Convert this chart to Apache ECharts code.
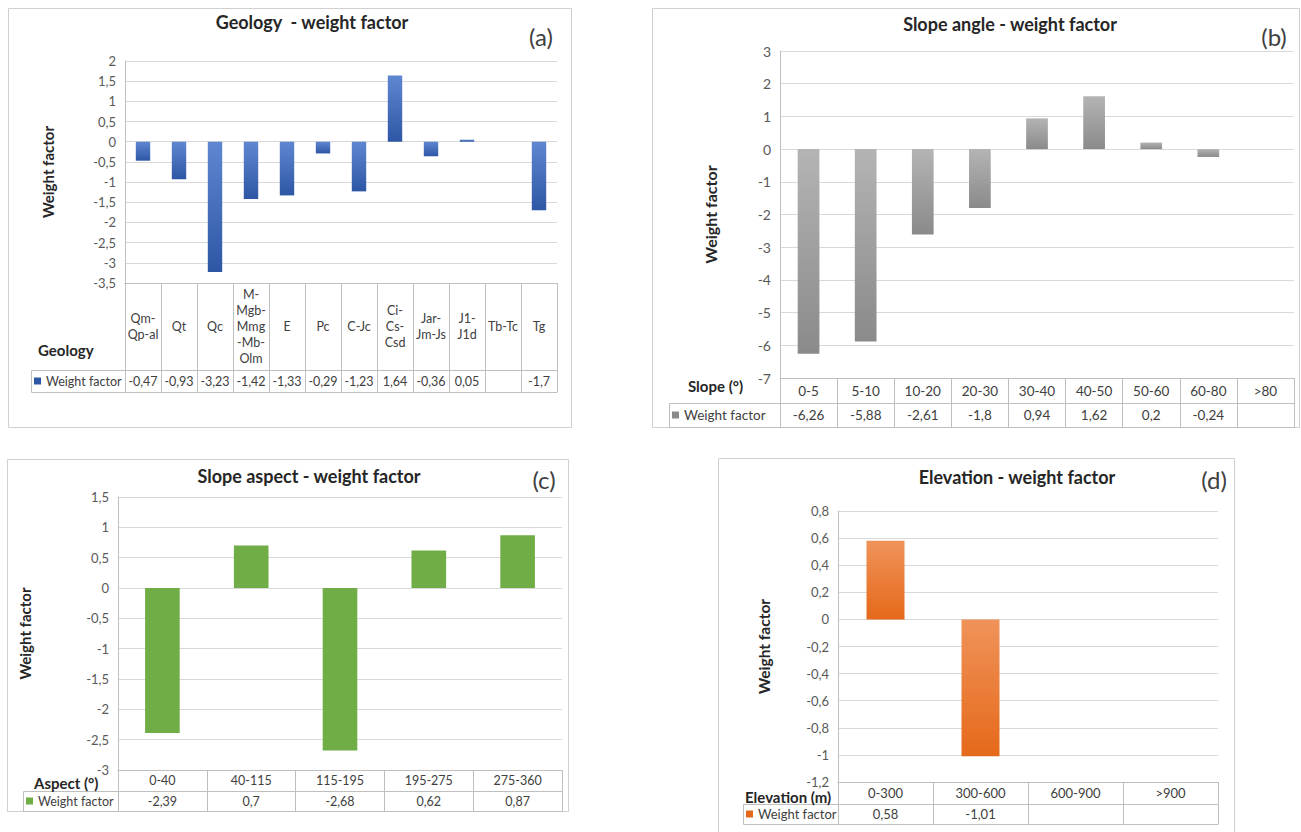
<!DOCTYPE html>
<html><head><meta charset="utf-8">
<script src="https://cdn.jsdelivr.net/npm/echarts@6/dist/echarts.min.js"></script>
<style>html,body{margin:0;padding:0;background:#fff}#c{width:1301px;height:832px}</style>
</head><body><div id="c"></div>
<script>
// ---------- data ----------
const geoCats = ['Qm-\nQp-al', 'Qt', 'Qc', 'M-\nMgb-\nMmg\n-Mb-\nOlm', 'E', 'Pc', 'C-Jc', 'Ci-\nCs-\nCsd', 'Jar-\nJm-Js', 'J1-\nJ1d', 'Tb-Tc', 'Tg'];
const geoVals = [-0.47, -0.93, -3.23, -1.42, -1.33, -0.29, -1.23, 1.64, -0.36, 0.05, null, -1.7];
const slopeCats = ['0-5', '5-10', '10-20', '20-30', '30-40', '40-50', '50-60', '60-80', '>80'];
const slopeVals = [-6.26, -5.88, -2.61, -1.8, 0.94, 1.62, 0.2, -0.24, null];
const aspectCats = ['0-40', '40-115', '115-195', '195-275', '275-360'];
const aspectVals = [-2.39, 0.7, -2.68, 0.62, 0.87];
const elevCats = ['0-300', '300-600', '600-900', '>900'];
const elevVals = [0.58, -1.01, null, null];
const geoTicks = [-3.5, 2, 0.5];
const slopeTicks = [-7, 3, 1];
const aspectTicks = [-3, 1.5, 0.5];
const elevTicks = [-1.2, 0.8, 0.2];
const seriesName = 'Weight factor';

// ---------- layout / style ----------
const FONT = 'Lato, "Open Sans", sans-serif';
const LINE = '#bfbfbf', GRIDC = '#d9d9d9', FRAME = '#d0d0d0';
const TXT = '#404040', AX = '#595959', DARK = '#262626';
const fmt = v => (v === null || v === undefined) ? '' : String(Math.round(v * 100) / 100).replace('.', ',');

const panels = [
  {title: 'Geology  - weight factor', tag: '(a)', head: 'Geology', cats: geoCats, vals: geoVals, ticks: geoTicks,
   frame: [8, 8, 571, 427], grid: [125, 61, 557, 283], catH: 87, valH: 22, legX: 31,
   titleX: 312, titleY: 22, tagX: 541, tagY: 36, headX: 38, headY: 350, nameGap: 70, nameSize: 15,
   fs: 12.5, yfs: 13, lh: 16, colors: ['#5f86d1', '#2d57a5'], barW: '40%'},
  {title: 'Slope angle - weight factor', tag: '(b)', head: 'Slope (°)', cats: slopeCats, vals: slopeVals, ticks: slopeTicks,
   frame: [652, 8, 1299, 427], grid: [780, 51, 1294, 378], catH: 25, valH: 24, legX: 669,
   titleX: 1010, titleY: 24, tagX: 1274, tagY: 36, headX: 688, headY: 386, nameGap: 62, nameSize: 16,
   fs: 13.5, yfs: 14, lh: 16, colors: ['#b4b4b4', '#8a8a8a'], barW: '38%'},
  {title: 'Slope aspect - weight factor', tag: '(c)', head: 'Aspect (°)', cats: aspectCats, vals: aspectVals, ticks: aspectTicks,
   frame: [7, 459, 568, 811], grid: [118, 497, 562, 770], catH: 21, valH: 20, legX: 23,
   titleX: 309, titleY: 476, tagX: 544, tagY: 479, headX: 34, headY: 783, nameGap: 86, nameSize: 15,
   fs: 12.5, yfs: 13, lh: 16, colors: ['#70ad47', '#70ad47'], barW: '39%'},
  {title: 'Elevation - weight factor', tag: '(d)', head: 'Elevation (m)', cats: elevCats, vals: elevVals, ticks: elevTicks,
   frame: [718, 458, 1234, 840], grid: [838, 511, 1218, 782], catH: 22, valH: 20, legX: 743,
   titleX: 1017, titleY: 477, tagX: 1214, tagY: 479, headX: 745, headY: 797, nameGap: 66, nameSize: 15.5,
   fs: 13, yfs: 13, lh: 16, colors: ['#f0935a', '#e5691a'], barW: '40%'}
];

const option = {animation: false, backgroundColor: '#fff', textStyle: {fontFamily: FONT},
  grid: [], xAxis: [], yAxis: [], series: [], legend: [], graphic: []};

panels.forEach((p, i) => {
  const [gl, gt, gr, gb] = p.grid;
  option.grid.push({left: gl, top: gt, width: gr - gl, height: gb - gt, containLabel: false});
  const lbl = {interval: 0, verticalAlign: 'middle', align: 'center', fontSize: p.fs, color: TXT, fontFamily: FONT, lineHeight: p.lh};
  option.xAxis.push({gridIndex: i, type: 'category', data: p.cats, position: 'bottom',
    axisLine: {show: true, onZero: false, lineStyle: {color: LINE}},
    axisTick: {show: true, interval: 0, length: p.catH + p.valH, lineStyle: {color: LINE}},
    axisLabel: Object.assign({}, lbl, {margin: p.catH / 2}), splitLine: {show: false}});
  option.xAxis.push({gridIndex: i, type: 'category', data: p.cats, position: 'bottom', offset: p.catH,
    axisLine: {show: true, onZero: false, lineStyle: {color: LINE}}, axisTick: {show: false},
    axisLabel: Object.assign({}, lbl, {margin: p.valH / 2, formatter: (v, idx) => fmt(p.vals[idx])}), splitLine: {show: false}});
  option.xAxis.push({gridIndex: i, type: 'category', data: p.cats, position: 'bottom', offset: p.catH + p.valH,
    axisLine: {show: true, onZero: false, lineStyle: {color: LINE}}, axisTick: {show: false},
    axisLabel: {show: false}, splitLine: {show: false}});
  option.yAxis.push({gridIndex: i, type: 'value', min: p.ticks[0], max: p.ticks[1], interval: p.ticks[2],
    axisLine: {show: true, lineStyle: {color: LINE}}, axisTick: {show: false},
    splitLine: {show: true, lineStyle: {color: GRIDC, width: 1}},
    axisLabel: {formatter: v => fmt(v), fontSize: p.yfs, color: AX, fontFamily: FONT, margin: 9},
    name: 'Weight factor', nameLocation: 'middle', nameRotate: 90, nameGap: p.nameGap,
    nameTextStyle: {fontWeight: 'bold', fontSize: p.nameSize, color: DARK, fontFamily: FONT}});
  const sName = seriesName + ' ' + p.tag;
  option.series.push({type: 'bar', name: sName, xAxisIndex: 3 * i, yAxisIndex: i, data: p.vals, barWidth: p.barW,
    itemStyle: {color: new echarts.graphic.LinearGradient(0, 0, 0, 1, [{offset: 0, color: p.colors[0]}, {offset: 1, color: p.colors[1]}])}});
  const rowTop = gb + p.catH;
  option.legend.push({data: [{name: sName, icon: 'rect', itemStyle: {color: p.colors[1]}}], formatter: () => seriesName,
    left: p.legX + 3, top: rowTop + p.valH / 2 - 7, padding: 0, itemWidth: 7, itemHeight: 7, itemGap: 4,
    selectedMode: false, textStyle: {fontSize: p.fs, color: TXT, fontFamily: FONT, lineHeight: 14}});
  const [fx0, fy0, fx1, fy1] = p.frame;
  option.graphic.push({type: 'rect', silent: true, z: -10, shape: {x: fx0 + 0.5, y: fy0 + 0.5, width: fx1 - fx0, height: fy1 - fy0},
    style: {fill: 'none', stroke: FRAME, lineWidth: 1}});
  option.graphic.push({type: 'rect', silent: true, shape: {x: p.legX + 0.5, y: rowTop + 0.5, width: gl - p.legX, height: p.valH},
    style: {fill: 'none', stroke: LINE, lineWidth: 1}});
  option.graphic.push({type: 'text', silent: true, x: p.titleX, y: p.titleY,
    style: {text: p.title, fill: DARK, font: 'bold 18px ' + FONT, textAlign: 'center', textVerticalAlign: 'middle'}});
  option.graphic.push({type: 'text', silent: true, x: p.tagX, y: p.tagY,
    style: {text: p.tag, fill: TXT, font: '24px ' + FONT, textAlign: 'center', textVerticalAlign: 'middle'}});
  option.graphic.push({type: 'text', silent: true, x: p.headX, y: p.headY,
    style: {text: p.head, fill: DARK, font: 'bold 15px ' + FONT, textAlign: 'left', textVerticalAlign: 'middle'}});
});

const chart = echarts.init(document.getElementById('c'), null, {renderer: 'svg'});
chart.setOption(option);
</script>
</body></html>
